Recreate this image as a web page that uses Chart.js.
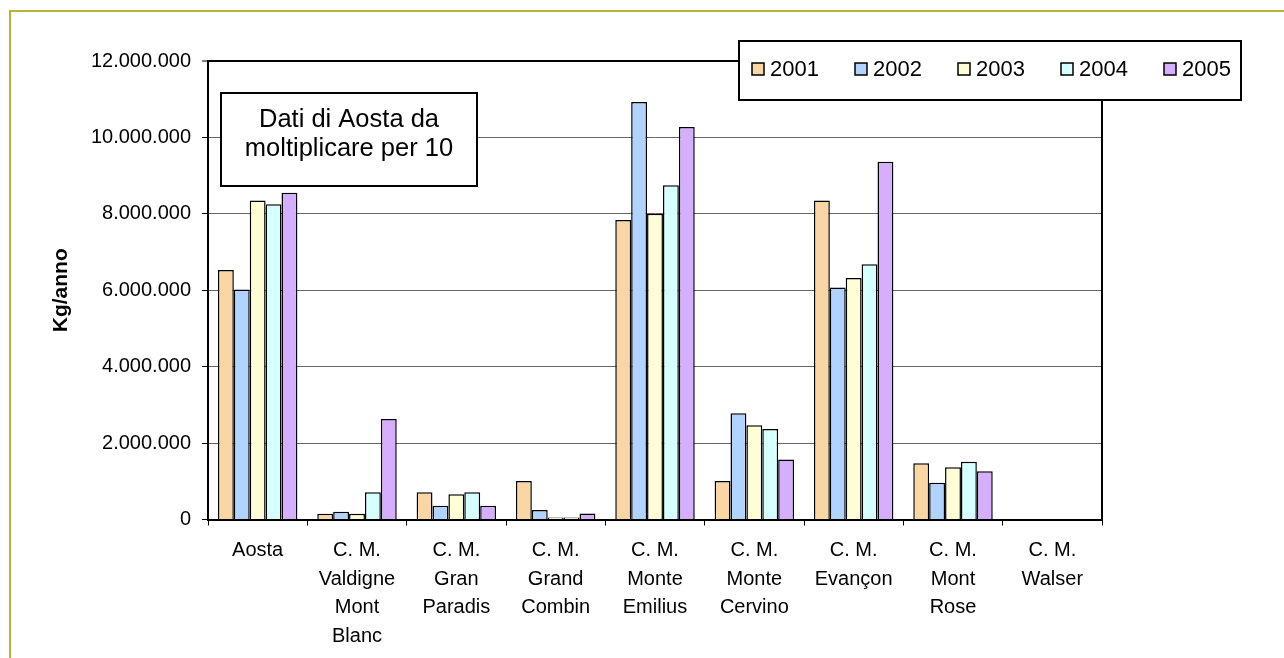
<!DOCTYPE html>
<html>
<head>
<meta charset="utf-8">
<script src="https://cdn.jsdelivr.net/npm/chart.js@4/dist/chart.umd.min.js"></script>
<style>
  html, body { margin: 0; padding: 0; background: #ffffff; }
  canvas { display: block; }
</style>
</head>
<body>
<canvas id="chart" width="1284" height="658"></canvas>
<script>
// Comunità montane e Aosta, quantità annue (Kg/anno)
const categories = [
  'Aosta',
  ['C. M.', 'Valdigne', 'Mont', 'Blanc'],
  ['C. M.', 'Gran', 'Paradis'],
  ['C. M.', 'Grand', 'Combin'],
  ['C. M.', 'Monte', 'Emilius'],
  ['C. M.', 'Monte', 'Cervino'],
  ['C. M.', 'Evançon'],
  ['C. M.', 'Mont', 'Rose'],
  ['C. M.', 'Walser']
];

const years = ['2001', '2002', '2003', '2004', '2005'];

const values2001 = [6530000, 150000, 710000, 1010000, 7840000, 1010000, 8350000, 1470000, 0];
const values2002 = [6020000, 200000, 360000, 250000, 10930000, 2780000, 6070000, 960000, 0];
const values2003 = [8350000, 150000, 660000, 50000, 8000000, 2470000, 6320000, 1370000, 0];
const values2004 = [8250000, 710000, 710000, 50000, 8750000, 2370000, 6680000, 1510000, 0];
const values2005 = [8550000, 2630000, 360000, 160000, 10270000, 1570000, 9360000, 1260000, 0];

const yTicks = [0, 2000000, 4000000, 6000000, 8000000, 10000000, 12000000];

const noteLines = ['Dati di Aosta da', 'moltiplicare per 10'];

const seriesColors = ['#FAD6A5', '#B0D4FF', '#FFFDD6', '#D6FFFF', '#D6AEFF'];
const seriesValues = [values2001, values2002, values2003, values2004, values2005];

const FONT = '"Liberation Sans", Arial, Helvetica, sans-serif';

function formatDots(v) {
  return String(Math.round(v)).replace(/\B(?=(\d{3})+(?!\d))/g, '.');
}

// olive frame around the whole chart object
const frame = {
  id: 'frame',
  beforeDraw(chart) {
    const ctx = chart.ctx;
    ctx.save();
    ctx.fillStyle = '#ffffff';
    ctx.fillRect(0, 0, chart.width, chart.height);
    ctx.strokeStyle = '#B8B13C';
    ctx.lineWidth = 2;
    ctx.strokeRect(10, 11, chart.width + 20, chart.height + 20);
    ctx.restore();
  }
};

// black border closing the plot area on the right
const plotBorder = {
  id: 'plotBorder',
  afterDatasetsDraw(chart) {
    const a = chart.chartArea;
    const ctx = chart.ctx;
    ctx.save();
    ctx.strokeStyle = '#000';
    ctx.lineWidth = 2;
    ctx.beginPath();
    ctx.moveTo(a.right, a.top - 1);
    ctx.lineTo(a.right, a.bottom + 1);
    ctx.stroke();
    ctx.restore();
  }
};

// boxed legend in the top right corner
const boxLegend = {
  id: 'boxLegend',
  afterDraw(chart) {
    const ctx = chart.ctx;
    ctx.save();
    const x0 = 739, y0 = 41, w = 502, h = 59;
    ctx.fillStyle = '#ffffff';
    ctx.fillRect(x0, y0, w, h);
    ctx.strokeStyle = '#000';
    ctx.lineWidth = 2;
    ctx.strokeRect(x0, y0, w, h);
    ctx.font = '22px ' + FONT;
    ctx.textBaseline = 'middle';
    ctx.textAlign = 'left';
    chart.data.datasets.forEach((ds, i) => {
      const sx = 752 + i * 103;
      ctx.fillStyle = ds.backgroundColor;
      ctx.fillRect(sx, 63, 12, 12);
      ctx.lineWidth = 1.5;
      ctx.strokeStyle = '#000';
      ctx.strokeRect(sx, 63, 12, 12);
      ctx.fillStyle = '#000';
      ctx.fillText(ds.label, sx + 18, 70);
    });
    ctx.restore();
  }
};

// note box about the Aosta figures
const noteBox = {
  id: 'noteBox',
  afterDraw(chart) {
    const ctx = chart.ctx;
    ctx.save();
    const x0 = 221, y0 = 93, w = 256, h = 93;
    ctx.fillStyle = '#ffffff';
    ctx.fillRect(x0, y0, w, h);
    ctx.strokeStyle = '#000';
    ctx.lineWidth = 2;
    ctx.strokeRect(x0, y0, w, h);
    ctx.fillStyle = '#000';
    ctx.font = '25.5px ' + FONT;
    ctx.textAlign = 'center';
    ctx.textBaseline = 'middle';
    noteLines.forEach((t, i) => ctx.fillText(t, x0 + w / 2, 120 + i * 29));
    ctx.restore();
  }
};

const datasets = years.map((y, i) => ({
  label: y,
  data: seriesValues[i],
  backgroundColor: seriesColors[i],
  borderColor: '#000',
  borderWidth: 1.5,
  borderSkipped: 'start',
  categoryPercentage: 0.8,
  barPercentage: 1.0
}));

new Chart(document.getElementById('chart'), {
  type: 'bar',
  data: { labels: categories, datasets },
  plugins: [frame, plotBorder, boxLegend, noteBox],
  options: {
    responsive: false,
    animation: false,
    devicePixelRatio: 1,
    layout: { padding: { left: 0, top: 61, right: 182, bottom: 0 } },
    plugins: {
      legend: { display: false },
      tooltip: { enabled: false }
    },
    scales: {
      x: {
        offset: true,
        grid: {
          display: true,
          drawOnChartArea: false,
          drawTicks: true,
          tickLength: 6,
          tickColor: '#000',
          tickWidth: 1,
          offset: true
        },
        border: { display: true, color: '#000', width: 2 },
        ticks: {
          color: '#000',
          font: { family: FONT, size: 20, lineHeight: '28.5px' },
          padding: 11,
          maxRotation: 0,
          autoSkip: false
        },
        afterFit(scale) { scale.height = 138.5; }
      },
      y: {
        min: 0,
        max: 12000000,
        afterBuildTicks(scale) { scale.ticks = yTicks.map(v => ({ value: v })); },
        grid: {
          color: ctx => (ctx.tick && ctx.tick.value === 12000000) ? '#000' : '#666',
          lineWidth: ctx => (ctx.tick && ctx.tick.value === 12000000) ? 2 : 1,
          drawTicks: true,
          tickLength: 6,
          tickColor: '#000',
          tickWidth: 1
        },
        border: { display: true, color: '#000', width: 2 },
        ticks: {
          color: '#000',
          font: { family: FONT, size: 20 },
          padding: 11,
          callback: v => formatDots(v)
        },
        title: {
          display: true,
          text: 'Kg/anno',
          color: '#000',
          font: { family: FONT, size: 21, weight: 'bold', lineHeight: 1.2 },
          padding: { top: 49, bottom: 0 }
        },
        afterFit(scale) { scale.width = 208; }
      }
    }
  }
});
</script>
</body>
</html>
